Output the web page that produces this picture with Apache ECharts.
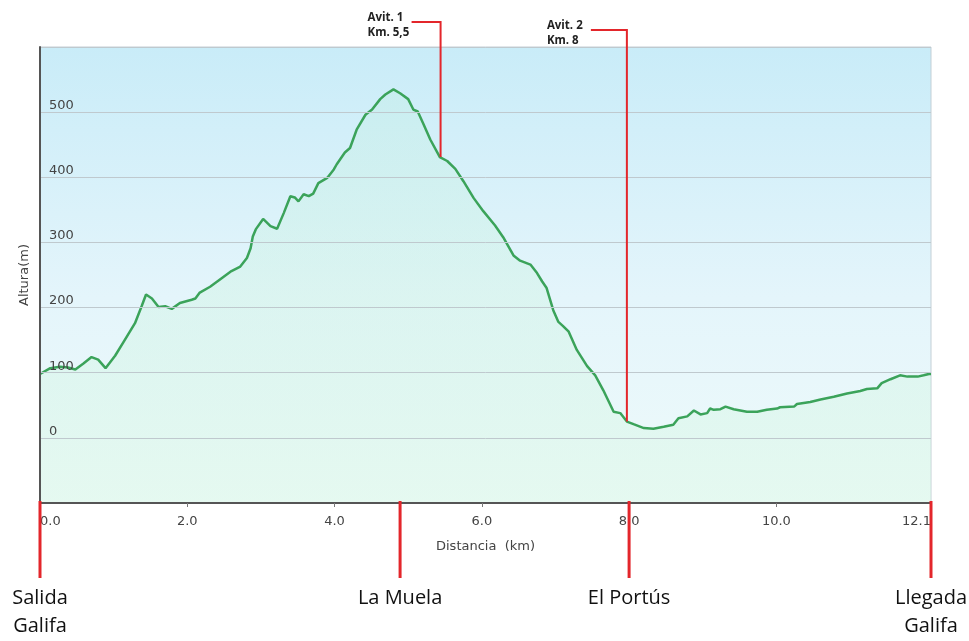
<!DOCTYPE html>
<html>
<head>
<meta charset="utf-8">
<script src="https://cdn.jsdelivr.net/npm/echarts@6/dist/echarts.min.js"></script>
<style>
html,body{margin:0;padding:0;background:#fff;}
#chart{width:969px;height:641px;}
</style>
</head>
<body>
<div id="chart"></div>
<script>
// ---- data ----
const distanceKm = [0.00,0.14,0.27,0.38,0.48,0.59,0.70,0.79,0.89,1.02,1.15,1.29,1.38,1.44,1.52,1.61,1.70,1.79,1.90,2.06,2.11,2.17,2.31,2.49,2.60,2.72,2.81,2.86,2.89,2.93,3.03,3.13,3.22,3.31,3.40,3.46,3.51,3.58,3.65,3.71,3.78,3.90,3.99,4.03,4.14,4.21,4.30,4.42,4.51,4.62,4.69,4.80,4.89,5.00,5.07,5.13,5.21,5.30,5.43,5.53,5.64,5.75,5.89,6.02,6.18,6.29,6.43,6.52,6.66,6.75,6.82,6.88,6.97,7.04,7.10,7.18,7.29,7.43,7.54,7.65,7.79,7.88,7.97,8.06,8.20,8.33,8.47,8.60,8.67,8.79,8.88,8.97,9.06,9.10,9.15,9.24,9.31,9.42,9.60,9.74,9.87,10.01,10.05,10.24,10.28,10.46,10.60,10.78,10.96,11.14,11.23,11.37,11.43,11.55,11.68,11.78,11.92,12.00,12.07,12.10];
const altitudeM = [98,107,109,108,105,114,124,120,107,126,150,176,202,220,214,201,202,198,207,212,214,223,232,247,256,263,276,291,309,320,336,325,321,345,371,369,363,374,371,375,391,399,412,420,438,445,473,496,504,520,527,535,529,520,504,501,481,458,431,425,413,394,368,348,326,308,280,272,266,253,240,230,196,178,172,163,135,110,96,73,40,38,25,21,15,14,17,20,30,33,42,36,38,45,43,44,48,44,40,40,43,45,47,48,52,55,59,63,68,72,75,76,84,90,96,94,94,96,98,98];
const xTickValues = [0, 2, 4, 6, 8, 10, 12.1];
const xTickLabels = ['0.0', '2.0', '4.0', '6.0', '8.0', '10.0', '12.1'];
const yTickValues = [0, 100, 200, 300, 400, 500];
// top call-outs (supply points)
const calloutKm = [5.44, 7.97];
const calloutAlt = [431, 25];
const calloutText = ['Avit. 1\nKm. 5,5', 'Avit. 2\nKm. 8'];
// bottom waypoints
const waypointKm = [0, 4.89, 8.0, 12.1];
const waypointText = ['Salida\nGalifa', 'La Muela', 'El Portús', 'Llegada\nGalifa'];

const seriesData = distanceKm.map((d, i) => [d, altitudeM[i]]);

const chart = echarts.init(document.getElementById('chart'), null, {renderer: 'canvas'});
const labelFont = 'DejaVu Sans, Verdana, sans-serif';

chart.setOption({
  animation: false,
  backgroundColor: '#ffffff',
  grid: {
    left: 40, top: 47, right: 38, bottom: 138,
    show: true,
    borderColor: '#c3cfd6',
    borderWidth: 1,
    backgroundColor: new echarts.graphic.LinearGradient(0, 0, 0, 1, [
      {offset: 0, color: '#c9ecf8'},
      {offset: 0.55, color: '#e4f5fb'},
      {offset: 1, color: '#eefafa'}
    ])
  },
  xAxis: {
    type: 'value',
    min: 0, max: 12.1,
    name: 'Distancia  (km)',
    nameLocation: 'middle',
    nameGap: 37,
    nameTextStyle: {color: '#444', fontSize: 13, fontFamily: labelFont},
    splitLine: {show: false},
    axisLine: {show: true, onZero: false, lineStyle: {color: '#555', width: 2}},
    axisTick: {show: true, customValues: xTickValues, length: 4, lineStyle: {color: '#777'}},
    axisLabel: {
      customValues: xTickValues,
      formatter: v => { const i = xTickValues.indexOf(v); return i >= 0 ? xTickLabels[i] : ''; },
      color: '#444', fontSize: 13, fontFamily: labelFont, margin: 12,
      alignMinLabel: 'left', alignMaxLabel: 'right'
    },
    z: 3
  },
  yAxis: {
    type: 'value',
    min: -100, max: 600, interval: 100,
    name: 'Altura(m)',
    nameLocation: 'middle',
    nameGap: 9,
    nameRotate: 90,
    nameTextStyle: {color: '#444', fontSize: 13, fontFamily: labelFont},
    axisLine: {show: true, onZero: false, lineStyle: {color: '#555', width: 2}},
    axisTick: {show: false},
    splitLine: {show: true, lineStyle: {color: '#bfc9ce', width: 1}},
    axisLabel: {
      inside: true,
      margin: 9,
      verticalAlign: 'bottom',
      color: '#444', fontSize: 13, fontFamily: labelFont,
      padding: [0, 0, 0, 0],
      formatter: v => yTickValues.indexOf(v) >= 0 ? String(v) : ''
    },
    z: 3
  },
  series: [{
    type: 'line',
    data: seriesData,
    showSymbol: false,
    smooth: false,
    lineStyle: {color: '#3ba35a', width: 2.5},
    areaStyle: {
      origin: 'start',
      color: new echarts.graphic.LinearGradient(0, 0, 0, 1, [
        {offset: 0, color: 'rgba(180,238,205,0.25)'},
        {offset: 1, color: 'rgba(215,248,225,0.55)'}
      ])
    },
    z: 2
  }]
});

function buildGraphics() {
  const els = [];
  const red = '#e3262b';
  const elbowY = [22, 30];
  const elbowLen = [29, 36];
  calloutKm.forEach((km, i) => {
    const p = chart.convertToPixel({gridIndex: 0}, [km, calloutAlt[i]]);
    const y0 = elbowY[i];
    const xStart = p[0] - elbowLen[i];
    els.push({
      type: 'polyline', silent: true, z: 10,
      shape: {points: [[xStart, y0], [p[0], y0], [p[0], p[1]]]},
      style: {stroke: red, lineWidth: 2, fill: null}
    });
    els.push({
      type: 'text', silent: true, z: 10,
      x: xStart - 44, y: y0 - 12,
      style: {text: calloutText[i], fill: '#222', font: 'bold 11.5px "Open Sans", sans-serif', lineHeight: 15, align: 'left', verticalAlign: 'top'}
    });
  });
  const axisBottom = chart.convertToPixel({gridIndex: 0}, [0, -100])[1];
  waypointKm.forEach((km, i) => {
    const x = chart.convertToPixel({gridIndex: 0}, [km, 0])[0];
    els.push({
      type: 'line', silent: true, z: 10,
      shape: {x1: x, y1: axisBottom - 2, x2: x, y2: axisBottom + 75},
      style: {stroke: red, lineWidth: 3}
    });
    els.push({
      type: 'text', silent: true, z: 10,
      x: x, y: axisBottom + 81,
      style: {text: waypointText[i], fill: '#111', font: '20px "Open Sans", sans-serif', lineHeight: 28, align: 'center', verticalAlign: 'top'}
    });
  });
  chart.setOption({graphic: els});
}
buildGraphics();
</script>
</body>
</html>
